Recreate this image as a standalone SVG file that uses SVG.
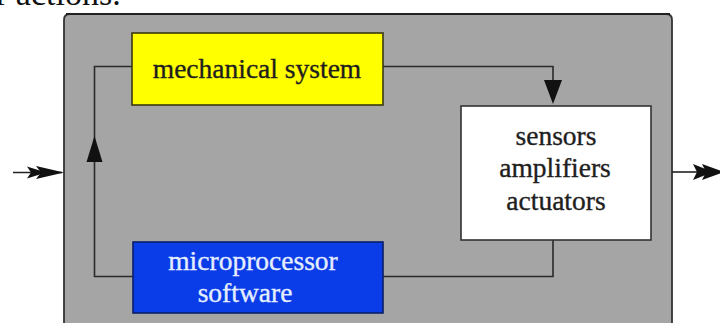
<svg xmlns="http://www.w3.org/2000/svg" width="720" height="325" viewBox="0 0 720 325">
  <style>
    .label { font-family: "Liberation Serif", "Times New Roman", serif; font-size: 27.5px; text-anchor: middle; stroke-width: 0.35; }
    .dark { fill: #1e1e1e; stroke: #1e1e1e; }
    .light { fill: #e4eeff; stroke: #e4eeff; }
    .wire { fill: none; stroke: #2a2a2a; stroke-width: 1.6; }
    .head { fill: #111; }
  </style>
  <rect width="720" height="325" fill="#ffffff"/>

  <!-- caption line running off the top edge -->
  <text x="-4" y="5" font-family="'Liberation Serif', 'Times New Roman', serif" font-size="34" fill="#111">r actions.</text>

  <!-- outer housing -->
  <g id="housing">
    <path d="M64,323 L64,20 Q64,14 70,14 L666,14 Q672,14 672,20 L672,323" fill="#a5a5a5" stroke="#333" stroke-width="1.8"/>
    <line x1="66" y1="14" x2="670" y2="14" stroke="#222" stroke-width="2.2"/>
  </g>

  <!-- connectors -->
  <g id="connectors">
    <!-- mechanical system to sensors -->
    <polyline class="wire" points="383,66.5 553,66.5 553,82"/>
    <polygon class="head" points="544,80 562,80 553,104"/>
    <!-- sensors to microprocessor -->
    <polyline class="wire" points="553,240 553,276.5 383,276.5"/>
    <!-- microprocessor back to mechanical system -->
    <polyline class="wire" points="133,276.5 94.5,276.5 94.5,66.5 132,66.5"/>
    <polygon class="head" points="86.5,162 102.5,162 94.5,136"/>
    <!-- external input -->
    <line x1="13" y1="172.5" x2="62" y2="172.5" stroke="#222" stroke-width="1.6"/>
    <polygon class="head" points="27,166.5 46,172.5 27,178.5 31,172.5"/>
    <polygon class="head" points="36,166 64,172.5 36,179 41,172.5"/>
    <!-- external output -->
    <line x1="672" y1="172" x2="700" y2="172" stroke="#222" stroke-width="1.6"/>
    <polygon class="head" points="693,164 713,172 693,180 697,172"/>
    <polygon class="head" points="702,164 724,172 702,180 706,172"/>
  </g>

  <g id="mechanical-system">
    <rect x="132" y="33" width="251" height="72" fill="#ffff00" stroke="#3a3a10" stroke-width="1.6"/>
    <text class="label dark" x="257" y="78">mechanical system</text>
  </g>

  <g id="sensors-amplifiers-actuators">
    <rect x="461" y="106" width="190" height="134" fill="#ffffff" stroke="#333" stroke-width="1.6"/>
    <text class="label dark" x="556" y="145">sensors</text>
    <text class="label dark" x="555" y="177">amplifiers</text>
    <text class="label dark" x="556" y="210">actuators</text>
  </g>

  <g id="microprocessor-software">
    <rect x="133" y="242" width="250" height="71" fill="#0a3ce8" stroke="#0b1f6a" stroke-width="1.6"/>
    <text class="label light" x="253" y="270">microprocessor</text>
    <text class="label light" x="245" y="302">software</text>
  </g>
</svg>
